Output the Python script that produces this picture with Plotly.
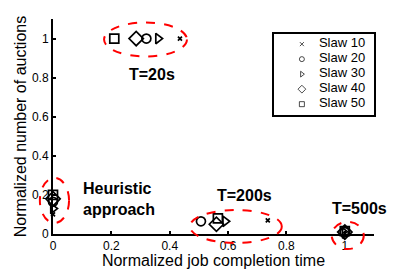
import plotly.graph_objects as go

series_names = ["Slaw 10", "Slaw 20", "Slaw 30", "Slaw 40", "Slaw 50"]
symbols = ["x-thin", "circle-open", "triangle-right-open", "diamond-open", "square-open"]
# points per series: [T=20s, T=200s, T=500s, Heuristic]
x_vals = {
    "Slaw 10": [0.435, 0.736, 1.0, 0.0],
    "Slaw 20": [0.32, 0.507, 1.0, 0.0],
    "Slaw 30": [0.36, 0.59, 1.0, 0.0],
    "Slaw 40": [0.285, 0.56, 1.0, 0.0],
    "Slaw 50": [0.21, 0.565, 1.0, 0.0],
}
y_vals = {
    "Slaw 10": [1.0, 0.07, 0.0, 0.10],
    "Slaw 20": [1.0, 0.065, 0.01, 0.165],
    "Slaw 30": [1.0, 0.065, 0.005, 0.13],
    "Slaw 40": [1.0, 0.05, 0.01, 0.18],
    "Slaw 50": [1.0, 0.08, 0.015, 0.20],
}
tick_vals = [0, 0.2, 0.4, 0.6, 0.8, 1]
tick_text = ["0", "0.2", "0.4", "0.6", "0.8", "1"]

# ellipse outlines (data units): x0, x1, y0, y1
ellipses = [
    (0.175, 0.459, 0.908, 1.082),
    (-0.045, 0.055, 0.056, 0.287),
    (0.469, 0.784, -0.046, 0.123),
    (0.955, 1.065, -0.077, 0.062),
]
labels = [
    ("<b>T=20s</b>", 0.339, 0.815, "center"),
    ("<b>Heuristic<br>approach</b>", 0.095, 0.18, "left"),
    ("<b>T=200s</b>", 0.657, 0.195, "center"),
    ("<b>T=500s</b>", 1.05, 0.133, "center"),
]

XR = [0, 1.1]
YR = [0, 1.1]
FONT = "Liberation Sans, Arial, sans-serif"

fig = go.Figure()
for name, sym in zip(series_names, symbols):
    size = {"x-thin": 4, "diamond-open": 11}.get(sym, 9)
    fig.add_trace(go.Scatter(
        x=x_vals[name], y=y_vals[name], mode="markers", name=name,
        showlegend=False, cliponaxis=False,
        marker=dict(symbol=sym, size=size, color="black",
                    line=dict(color="black", width=1.7)),
    ))

# legend drawn on its own small axes
leg_rows = list(range(len(series_names) - 1, -1, -1))
fig.add_trace(go.Scatter(
    x=[0.28] * len(series_names), y=leg_rows, mode="markers",
    xaxis="x2", yaxis="y2", showlegend=False, hoverinfo="skip",
    marker=dict(symbol=symbols, size=[4, 5, 5, 6, 5], color="black",
                line=dict(color="black", width=1)),
))
fig.add_trace(go.Scatter(
    x=[0.45] * len(series_names), y=leg_rows, mode="text",
    text=series_names, textposition="middle right",
    xaxis="x2", yaxis="y2", showlegend=False, hoverinfo="skip",
    textfont=dict(size=13, color="black", family=FONT),
    marker=dict(size=1),
))

def px(v):
    return (v - XR[0]) / (XR[1] - XR[0])

def py(v):
    return (v - YR[0]) / (YR[1] - YR[0])

for x0, x1, y0, y1 in ellipses:
    fig.add_shape(type="circle", xref="paper", yref="paper",
                  x0=px(x0), x1=px(x1), y0=py(y0), y1=py(y1),
                  line=dict(color="red", width=2, dash="dash"))

for txt, x, y, al in labels:
    fig.add_annotation(x=x, y=y, text=txt, showarrow=False, align=al,
                       xanchor=al if al != "center" else "center",
                       font=dict(size=16, color="black", family=FONT))

axis_common = dict(
    showline=True, linecolor="black", linewidth=2, mirror=False,
    ticks="inside", ticklen=3, tickwidth=1.5, tickcolor="black",
    showgrid=False, zeroline=False, automargin=False,
    tickvals=tick_vals, ticktext=tick_text,
    tickfont=dict(size=12, color="black", family=FONT),
)
fig.update_layout(
    xaxis=dict(range=XR, title=dict(text="Normalized job completion time",
               font=dict(size=16, color="black", family=FONT), standoff=1),
               **axis_common),
    yaxis=dict(range=YR, title=dict(text="Normalized number of auctions",
               font=dict(size=16, color="black", family=FONT), standoff=1),
               **axis_common),
    xaxis2=dict(domain=[0.688, 1.0], range=[0, 1], anchor="y2",
                showline=True, mirror=True, linecolor="black", linewidth=2,
                showticklabels=False, ticks="", showgrid=False,
                zeroline=False, fixedrange=True),
    yaxis2=dict(domain=[0.555, 0.932], range=[-0.7, 4.7], anchor="x2",
                showline=True, mirror=True, linecolor="black", linewidth=2,
                showticklabels=False, ticks="", showgrid=False,
                zeroline=False, fixedrange=True),
    width=415, height=269,
    margin=dict(l=53, r=41, t=19, b=35),
    paper_bgcolor="white", plot_bgcolor="white",
    font=dict(family=FONT, color="black"),
    showlegend=False,
)

fig.write_html("out.html", config={"displayModeBar": False},
               post_script="document.body.style.margin='0';document.body.style.overflow='hidden';")
